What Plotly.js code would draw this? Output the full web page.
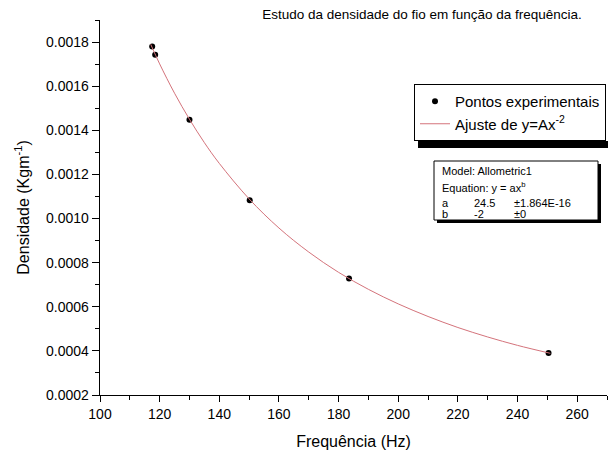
<!DOCTYPE html>
<html>
<head>
<meta charset="utf-8">
<script src="https://cdn.plot.ly/plotly-3.0.1.min.js"></script>
<style>html,body{margin:0;padding:0;background:#fff}#chart{width:608px;height:456px}</style>
</head>
<body>
<div id="chart"></div>
<script>
// Experimental points
const freq = [117.5, 118.5, 130.0, 150.2, 183.5, 250.4];
const density = [0.001780, 0.001742, 0.001448, 0.001083, 0.000728, 0.000390];
// Fitted curve y = A x^-2
const fitFreq = [117, 120, 125, 130, 135, 140, 150, 160, 170, 180, 190, 200, 210, 220, 230, 240, 251];
const fitDensity = [0.001790, 0.001701, 0.001568, 0.001450, 0.001344, 0.001250, 0.001089, 0.000957, 0.000848, 0.000756, 0.000679, 0.000613, 0.000556, 0.000506, 0.000463, 0.000425, 0.000389];
// Fit statistics
const paramNames = ['a', 'b'];
const paramValues = ['24.5', '-2'];
const paramErrors = ['\u00b11.864E-16', '\u00b10'];
const legendNames = ['Pontos experimentais', 'Ajuste de y=Ax<sup>-2</sup>'];

const FONT = 'Liberation Sans, Arial, sans-serif';
const px = v => (v - 100) / 507;   // page x -> paper x
const py = v => (395 - v) / 375;   // page y -> paper y

const traces = [
  {x: freq, y: density, type: 'scatter', mode: 'markers', name: legendNames[0],
   marker: {color: '#000', size: 6}},
  {x: fitFreq, y: fitDensity, type: 'scatter', mode: 'lines', name: legendNames[1],
   line: {color: '#d4737b', width: 1, shape: 'spline'}}
];

const statFont = {family: FONT, size: 11, color: '#000'};
const annotations = [
  {text: 'Model: Allometric1', x: px(440), y: py(171)},
  {text: 'Equation: y = ax<sup>b</sup>', x: px(440), y: py(187)}
].map(a => Object.assign({xref:'paper', yref:'paper', xanchor:'left', yanchor:'middle', showarrow:false, font: statFont}, a));
const cols = [440, 472, 512];
paramNames.forEach((n, i) => {
  const yy = py(203 + i * 11);
  [n, paramValues[i], paramErrors[i]].forEach((t, j) => {
    annotations.push({text: t, x: px(cols[j]), y: yy, xref:'paper', yref:'paper', xanchor:'left', yanchor:'middle', showarrow:false, font: statFont});
  });
});

const layout = {
  width: 608, height: 456,
  margin: {l: 100, r: 1, t: 20, b: 61},
  paper_bgcolor: '#fff', plot_bgcolor: '#fff',
  font: {family: FONT, color: '#000', size: 13},
  showlegend: true,
  title: {text: 'Estudo da densidade do fio em função da frequência.', xref: 'container', yref: 'container',
          x: 422/608, xanchor: 'center', y: 1 - 14/456, yanchor: 'middle', font: {family: FONT, size: 13.5, color: '#000'}},
  xaxis: {range: [100, 270], dtick: 20, tick0: 100, showgrid: false, zeroline: false,
          showline: true, linecolor: '#000', linewidth: 1.3, ticks: 'outside', ticklen: 6, tickcolor: '#000', tickwidth: 1,
          minor: {ticks: 'outside', ticklen: 4, dtick: 10, tickcolor: '#000', showgrid: false},
          tickfont: {family: FONT, size: 14, color: '#000'},
          title: {text: 'Frequência (Hz)', font: {family: FONT, size: 16, color: '#000'}, standoff: 14}},
  yaxis: {range: [0.0002, 0.0019], dtick: 0.0002, tick0: 0.0002, tickformat: '.4f', showgrid: false, zeroline: false,
          showline: true, linecolor: '#000', linewidth: 1.3, ticks: 'outside', ticklen: 7, tickcolor: '#000', tickwidth: 1,
          minor: {ticks: 'outside', ticklen: 4, dtick: 0.0001, tickcolor: '#000', showgrid: false},
          tickfont: {family: FONT, size: 14, color: '#000'},
          title: {text: 'Densidade (Kgm<sup>-1</sup>)', font: {family: FONT, size: 16, color: '#000'}, standoff: 12}},
  legend: {x: px(414), y: py(84), xanchor: 'left', yanchor: 'top',
           bgcolor: '#fff', bordercolor: '#000', borderwidth: 1,
           font: {family: FONT, size: 15, color: '#000'}, tracegroupgap: 0},
  shapes: [
    // legend shadow
    {type: 'rect', xref: 'paper', yref: 'paper', x0: px(418), x1: px(612), y0: py(148), y1: py(141),
     fillcolor: '#000', line: {width: 0}},
    // stats shadow
    {type: 'rect', xref: 'paper', yref: 'paper', x0: px(437), x1: px(601), y0: py(223), y1: py(164),
     fillcolor: '#000', line: {width: 0}},
    // stats box
    {type: 'rect', xref: 'paper', yref: 'paper', x0: px(434), x1: px(598), y0: py(220), y1: py(161),
     fillcolor: '#fff', line: {color: '#000', width: 1}}
  ],
  annotations: annotations
};

Plotly.newPlot('chart', traces, layout, {displayModeBar: false, staticPlot: true});
</script>
</body>
</html>
